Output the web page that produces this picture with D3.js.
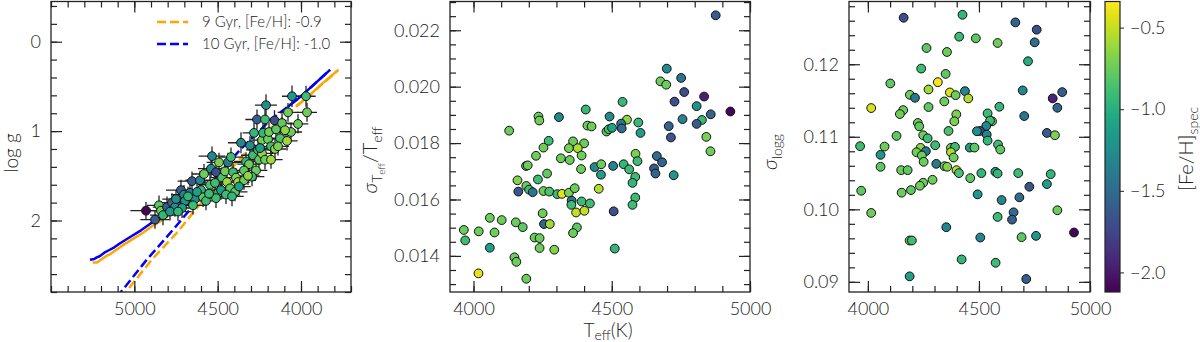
<!DOCTYPE html>
<html>
<head>
<meta charset="utf-8">
<script src="https://cdn.jsdelivr.net/npm/d3@7"></script>
<style>
  body { margin: 0; background: #fff; }
  svg { display: block; font-family: Lato, "DejaVu Sans", sans-serif; font-weight: 300; }
</style>
</head>
<body>
<svg id="chart" width="1200" height="342"></svg>
<script>
// ---- left panel: log g vs Teff (stars with error bars) ----
const leftTeff = [4930, 4876, 4852, 4840, 4828, 4804, 4774, 4756, 4750, 4720,
  4702, 4696, 4714, 4654, 4666, 4636, 4606, 4582, 4600, 4588,
  4570, 4546, 4534, 4540, 4510, 4516, 4498, 4510, 4474, 4456,
  4438, 4444, 4426, 4408, 4390, 4378, 4396, 4360, 4330, 4306,
  4312, 4342, 4288, 4270, 4294, 4252, 4234, 4258, 4234, 4216,
  4228, 4198, 4180, 4156, 4192, 4150, 4264, 4210, 4216, 4159,
  4114, 4078, 4060, 4054, 4018, 3970, 3964, 4096, 4126, 4180,
  4342, 4372, 4480, 4450, 4552, 4624, 4678, 4786, 4738, 4414,
  4246, 4318, 4492, 4420, 4282, 4138, 4084, 4648];
const leftLogg = [1.89, 1.99, 1.83, 1.89, 1.94, 1.85, 1.80, 1.85, 1.76, 1.66,
  1.71, 1.78, 1.86, 1.56, 1.69, 1.76, 1.55, 1.48, 1.66, 1.74,
  1.78, 1.60, 1.28, 1.42, 1.46, 1.58, 1.69, 1.75, 1.52, 1.45,
  1.35, 1.57, 1.64, 1.46, 1.52, 1.57, 1.68, 1.13, 1.34, 1.16,
  1.37, 1.44, 1.27, 1.44, 1.51, 1.32, 1.10, 1.21, 1.25, 1.32,
  1.02, 1.09, 1.17, 1.20, 1.01, 0.98, 0.87, 0.71, 0.87, 0.88,
  0.91, 0.79, 1.01, 0.61, 0.92, 0.61, 0.79, 0.99, 1.08, 1.32,
  1.55, 1.62, 1.66, 1.71, 1.70, 1.68, 1.73, 1.90, 1.90, 1.73,
  1.19, 1.50, 1.35, 1.29, 1.02, 1.17, 1.11, 1.83];
const leftFeh = [-2.10, -1.60, -0.78, -0.74, -0.95, -1.60, -1.55, -1.25, -1.25, -1.60,
  -1.30, -1.18, -1.12, -1.60, -1.40, -1.25, -1.30, -0.74, -0.95, -0.78,
  -0.90, -0.85, -1.30, -1.25, -1.70, -0.90, -0.95, -0.90, -0.85, -0.74,
  -1.40, -0.60, -0.78, -0.90, -0.68, -0.60, -0.78, -1.30, -0.95, -1.25,
  -0.74, -0.78, -0.90, -0.74, -0.90, -0.78, -0.74, -0.90, -0.64, -0.74,
  -0.95, -0.74, -0.90, -0.64, -0.74, -0.78, -1.60, -1.25, -0.90, -1.70,
  -0.78, -0.74, -0.74, -1.18, -0.74, -0.90, -0.74, -0.64, -0.85, -0.60,
  -0.74, -1.12, -1.12, -0.90, -0.90, -1.12, -0.95, -1.18, -0.95, -0.95,
  -1.12, -0.64, -0.70, -0.90, -0.95, -0.70, -0.60, -0.90];
const leftTeffErr = [94, 88, 72, 70, 78, 85, 80, 75, 82, 90,
  78, 84, 80, 86, 75, 82, 88, 72, 80, 70,
  76, 74, 80, 78, 84, 72, 76, 70, 74, 72,
  80, 70, 74, 68, 72, 70, 75, 78, 72, 76,
  70, 74, 72, 68, 74, 70, 68, 72, 70, 66,
  72, 68, 70, 66, 68, 64, 70, 66, 68, 72,
  64, 62, 66, 60, 62, 58, 60, 64, 66, 70,
  72, 70, 74, 72, 76, 78, 80, 84, 82, 70,
  68, 70, 74, 72, 68, 66, 64, 80];
const leftLoggErr = [0.097, 0.102, 0.110, 0.105, 0.112, 0.118, 0.104, 0.108, 0.100, 0.115,
  0.106, 0.103, 0.111, 0.109, 0.104, 0.099, 0.107, 0.112, 0.101, 0.110,
  0.105, 0.113, 0.108, 0.104, 0.110, 0.102, 0.106, 0.109, 0.115, 0.103,
  0.108, 0.111, 0.104, 0.100, 0.107, 0.112, 0.105, 0.118, 0.103, 0.109,
  0.106, 0.101, 0.110, 0.104, 0.108, 0.113, 0.120, 0.105, 0.102, 0.109,
  0.111, 0.106, 0.104, 0.103, 0.108, 0.110, 0.112, 0.122, 0.107, 0.114,
  0.109, 0.105, 0.103, 0.121, 0.108, 0.118, 0.106, 0.104, 0.110, 0.102,
  0.107, 0.103, 0.109, 0.105, 0.111, 0.104, 0.108, 0.100, 0.106, 0.110,
  0.104, 0.102, 0.108, 0.106, 0.110, 0.103, 0.107, 0.104];

// isochrones (RGB drawn dashed, HB and upper giant branch look solid)
const iso9RgbTeff = [5080, 5046, 4896, 4746, 4616, 4486, 4336, 4156, 3976, 3776];
const iso9RgbLogg = [2.87, 2.79, 2.44, 2.14, 1.84, 1.56, 1.25, 0.92, 0.645, 0.315];
const iso9HbTeff = [5250, 5225, 5200, 5170, 5140, 5110, 5080, 5020, 4950, 4890, 4830, 4750, 4670];
const iso9HbLogg = [2.47, 2.47, 2.44, 2.40, 2.37, 2.33, 2.29, 2.22, 2.14, 2.06, 1.99, 1.89, 1.80];
const iso9TopTeff = [4030, 3976, 3880, 3776];
const iso9TopLogg = [0.72, 0.645, 0.48, 0.315];
const iso10RgbTeff = [5106, 5076, 4926, 4766, 4636, 4516, 4366, 4186, 4006, 3826];
const iso10RgbLogg = [2.86, 2.79, 2.44, 2.10, 1.81, 1.52, 1.21, 0.88, 0.62, 0.315];
const iso10HbTeff = [5266, 5240, 5222, 5208, 5180, 5150, 5120, 5090, 5030, 4960, 4900, 4840, 4760, 4680];
const iso10HbLogg = [2.44, 2.43, 2.41, 2.40, 2.36, 2.33, 2.30, 2.26, 2.19, 2.11, 2.03, 1.96, 1.86, 1.77];
const iso10TopTeff = [4080, 4006, 3900, 3826];
const iso10TopLogg = [0.73, 0.62, 0.44, 0.315];
const isoNames = ["9 Gyr, [Fe/H]: -0.9", "10 Gyr, [Fe/H]: -1.0"];
const isoColors = ["#ffa500", "#0000ff"];

// ---- middle panel: sigma_Teff / Teff ----
const midTeff = [4876, 4699, 4751, 4676, 4697, 4762, 4834, 4727, 4539, 4807,
  4929, 4858, 4406, 4309, 4235, 4238, 4492, 4756, 4826, 4555,
  4534, 4596, 4706, 4807, 4412, 4427, 4481, 4489, 4501, 4536,
  4129, 4604, 4714, 4842, 4272, 4360, 4400, 4253, 4345, 4377,
  4857, 4226, 4316, 4391, 4586, 4348, 4663, 4593, 4682, 4190,
  4196, 4438, 4462, 4505, 4543, 4389, 4563, 4653, 4658, 4266,
  4461, 4724, 4585, 4159, 4233, 4575, 4191, 4201, 4162, 4214,
  4253, 4274, 4303, 4320, 4345, 4366, 4453, 4585, 4355, 4391,
  4421, 4354, 4575, 4371, 4401, 4507, 4250, 4255, 4276, 4059,
  4102, 4153, 4178, 3965, 4019, 4076, 4374, 4360, 3970, 4221,
  4239, 4059, 4239, 4292, 4511, 4148, 4155, 4018, 4191];
const midSig = [0.02253, 0.02064, 0.02031, 0.02019, 0.02007, 0.01981, 0.01965, 0.01947, 0.01946, 0.01931,
  0.01912, 0.01902, 0.01919, 0.01892, 0.01894, 0.01880, 0.01894, 0.01885, 0.01882, 0.01883,
  0.01869, 0.01873, 0.01860, 0.01868, 0.01862, 0.01859, 0.01841, 0.01849, 0.01854, 0.01852,
  0.01844, 0.01836, 0.01820, 0.01822, 0.01808, 0.01806, 0.01799, 0.01784, 0.01782, 0.01782,
  0.01771, 0.01755, 0.01746, 0.01756, 0.01762, 0.01740, 0.01754, 0.01736, 0.01732, 0.01719,
  0.01721, 0.01715, 0.01725, 0.01719, 0.01725, 0.01708, 0.01707, 0.01710, 0.01692, 0.01692,
  0.01688, 0.01686, 0.01680, 0.01668, 0.01671, 0.01659, 0.01648, 0.01635, 0.01628, 0.01626,
  0.01630, 0.01628, 0.01619, 0.01620, 0.01624, 0.01640, 0.01638, 0.01607, 0.01596, 0.01593,
  0.01586, 0.01581, 0.01581, 0.01554, 0.01560, 0.01558, 0.01551, 0.01513, 0.01513, 0.01535,
  0.01527, 0.01519, 0.01502, 0.01492, 0.01487, 0.01483, 0.01501, 0.01481, 0.01455, 0.01465,
  0.01463, 0.01429, 0.01428, 0.01422, 0.01426, 0.01395, 0.01379, 0.01338, 0.01319];
const midFeh = [-1.60, -1.25, -1.42, -0.74, -0.74, -1.70, -1.95, -1.70, -0.92, -1.20,
  -2.10, -1.55, -0.92, -1.28, -0.74, -0.74, -1.28, -1.32, -0.92, -0.65,
  -1.42, -0.92, -1.55, -1.60, -0.74, -0.74, -0.78, -0.85, -1.08, -1.50,
  -0.74, -1.12, -1.65, -0.70, -0.90, -0.74, -0.74, -0.74, -0.70, -0.55,
  -0.74, -0.74, -0.74, -0.74, -0.70, -0.74, -1.50, -0.90, -1.55, -0.78,
  -0.74, -1.28, -0.74, -1.32, -0.95, -0.74, -0.90, -1.60, -1.55, -0.78,
  -1.12, -1.18, -0.90, -0.68, -0.90, -0.95, -0.74, -0.90, -1.65, -1.42,
  -0.74, -0.85, -0.90, -0.42, -0.70, -0.74, -0.55, -0.90, -1.40, -0.90,
  -0.90, -0.90, -0.90, -0.50, -0.50, -1.70, -0.74, -1.55, -0.60, -0.74,
  -0.74, -0.74, -0.78, -0.74, -0.74, -0.74, -0.78, -0.74, -0.90, -0.74,
  -0.74, -1.12, -0.74, -0.68, -0.95, -0.74, -0.74, -0.42, -0.74];

// ---- right panel: sigma_logg ----
const rightTeff = [4161, 4426, 4664, 4760, 4411, 4486, 4584, 4751, 4264, 4356,
  4721, 4240, 4350, 4101, 4315, 4273, 4369, 4395, 4437, 4452,
  4189, 4212, 4697, 4875, 4832, 4853, 4015, 4159, 4144, 4273,
  4344, 4592, 4539, 4704, 4398, 4389, 4225, 4231, 4363, 4559,
  4550, 4533, 4505, 4491, 4535, 4539, 4806, 4842, 4129, 4249,
  4269, 3965, 4075, 4057, 4303, 4374, 4392, 4459, 4480, 4586,
  4596, 4237, 4219, 4261, 4243, 4374, 4386, 4251, 4057, 4308,
  4345, 4357, 4399, 4410, 4150, 4179, 4511, 4574, 4584, 4677,
  4461, 4291, 4249, 4234, 4823, 4806, 4727, 4194, 4152, 3970,
  4494, 4602, 4682, 4015, 4853, 4656, 4649, 4584, 4353, 4188,
  4198, 4506, 4692, 4757, 4928, 4422, 4575, 4188, 4713];
const rightSig = [0.12641, 0.12682, 0.12577, 0.12476, 0.12380, 0.12357, 0.12293, 0.12302, 0.12224, 0.12169,
  0.12041, 0.11940, 0.11867, 0.11735, 0.11753, 0.11652, 0.11611, 0.11574, 0.11629, 0.11529,
  0.11579, 0.11538, 0.11639, 0.11616, 0.11529, 0.11400, 0.11396, 0.11368, 0.11313, 0.11410,
  0.11487, 0.11414, 0.11323, 0.11286, 0.11309, 0.11213, 0.11190, 0.11144, 0.11080, 0.11213,
  0.11222, 0.11149, 0.11080, 0.11076, 0.11030, 0.10947, 0.11053, 0.11021, 0.11012, 0.11021,
  0.10979, 0.10870, 0.10865, 0.10751, 0.10883, 0.10847, 0.10861, 0.10851, 0.10851, 0.10893,
  0.10824, 0.10847, 0.10787, 0.10801, 0.10742, 0.10787, 0.10714, 0.10655, 0.10586, 0.10627,
  0.10595, 0.10586, 0.10540, 0.10499, 0.10540, 0.10540, 0.10499, 0.10517, 0.10494, 0.10499,
  0.10430, 0.10407, 0.10366, 0.10325, 0.10485, 0.10348, 0.10311, 0.10265, 0.10229, 0.10256,
  0.10206, 0.10128, 0.10165, 0.09950, 0.09987, 0.09959, 0.09858, 0.09895, 0.09753, 0.09570,
  0.09570, 0.09611, 0.09616, 0.09634, 0.09680, 0.09309, 0.09263, 0.09076, 0.09039];
const rightFeh = [-1.70, -0.95, -1.55, -1.70, -0.90, -0.78, -0.74, -1.50, -0.78, -0.74,
  -1.02, -0.90, -0.78, -0.78, -0.36, -0.60, -0.45, -0.74, -1.30, -0.55,
  -0.74, -1.40, -1.30, -1.60, -1.95, -1.55, -0.45, -0.74, -0.74, -0.78,
  -0.74, -0.95, -0.90, -1.42, -0.70, -0.70, -0.74, -0.78, -0.85, -0.70,
  -0.90, -1.30, -1.70, -1.25, -1.30, -0.95, -1.60, -0.70, -0.78, -0.74,
  -0.90, -0.90, -0.74, -1.18, -0.90, -0.70, -0.90, -1.12, -0.78, -0.90,
  -0.78, -0.64, -0.74, -1.40, -0.74, -0.55, -0.74, -0.74, -0.78, -1.40,
  -0.74, -0.68, -0.55, -0.85, -0.74, -0.78, -0.95, -1.12, -0.95, -0.90,
  -0.78, -0.74, -0.74, -0.74, -0.95, -1.12, -1.65, -0.78, -0.74, -0.78,
  -1.18, -1.30, -1.50, -0.74, -0.74, -1.50, -1.60, -0.90, -1.30, -0.74,
  -0.90, -1.30, -0.78, -1.18, -2.10, -0.95, -0.90, -1.12, -1.60];

// colour bar ticks
const cbarTicks = [-2.0, -1.5, -1.0, -0.5];

const svg = d3.select("#chart");
const ink = "#222";
const color = d3.scaleSequential(d3.interpolateViridis).domain([-2.12, -0.34]);
const yTop = 1.5, yBot = 292;

// draws the box with inward ticks on all four sides
function frame(g, x, y, xMajor, xMinor, yMajor, yMinor, xFmt, yFmt) {
  const x0 = Math.min(...x.range()), x1 = Math.max(...x.range());
  const axes = [
    [d3.axisBottom(x).tickValues(xMajor).tickSize(-11).tickPadding(10).tickFormat(xFmt), `translate(0,${yBot})`],
    [d3.axisBottom(x).tickValues(xMinor).tickSize(-6).tickFormat(""), `translate(0,${yBot})`],
    [d3.axisTop(x).tickValues(xMajor).tickSize(-11).tickFormat(""), `translate(0,${yTop})`],
    [d3.axisTop(x).tickValues(xMinor).tickSize(-6).tickFormat(""), `translate(0,${yTop})`],
    [d3.axisLeft(y).tickValues(yMajor).tickSize(-11).tickPadding(10).tickFormat(yFmt), `translate(${x0},0)`],
    [d3.axisLeft(y).tickValues(yMinor).tickSize(-6).tickFormat(""), `translate(${x0},0)`],
    [d3.axisRight(y).tickValues(yMajor).tickSize(-11).tickFormat(""), `translate(${x1},0)`],
    [d3.axisRight(y).tickValues(yMinor).tickSize(-6).tickFormat(""), `translate(${x1},0)`]
  ];
  axes.forEach(([ax, tr]) => {
    const a = g.append("g").attr("transform", tr).call(ax)
      .attr("font-family", null).attr("font-size", 18);
    a.select(".domain").remove();
    a.selectAll("line").attr("stroke", ink).attr("stroke-width", 1.2);
    a.selectAll("text").attr("fill", ink);
  });
  g.append("rect")
    .attr("x", x0).attr("y", yTop).attr("width", x1 - x0).attr("height", yBot - yTop)
    .attr("fill", "none").attr("stroke", ink).attr("stroke-width", 1.3);
}

function steps(a, b, s) {
  return d3.range(Math.round((b - a) / s) + 1).map(i => +(a + i * s).toFixed(5));
}

// ---------------- left panel ----------------
const xL = d3.scaleLinear().domain([5500, 3700]).range([51, 351]);
const yL = d3.scaleLinear().domain([-0.45, 2.8]).range([yTop, yBot]);
const defs = svg.append("defs");
defs.append("clipPath").attr("id", "clipL")
  .append("rect").attr("x", 51).attr("y", yTop).attr("width", 300).attr("height", yBot - yTop);
const gL = svg.append("g");
const gLc = gL.append("g").attr("clip-path", "url(#clipL)");

const line = d3.line().x(d => xL(d[0])).y(d => yL(d[1]));
const zip = (a, b) => a.map((v, i) => [v, b[i]]);
const isoSets = [
  [iso9RgbTeff, iso9RgbLogg, iso9HbTeff, iso9HbLogg, iso9TopTeff, iso9TopLogg],
  [iso10RgbTeff, iso10RgbLogg, iso10HbTeff, iso10HbLogg, iso10TopTeff, iso10TopLogg]
];
isoSets.forEach((s, k) => {
  gLc.append("path").datum(zip(s[0], s[1]))
    .attr("d", line).attr("fill", "none").attr("stroke", isoColors[k])
    .attr("stroke-width", 2.5).attr("stroke-dasharray", "9,4");
  gLc.append("path").datum(zip(s[2], s[3]))
    .attr("d", line).attr("fill", "none").attr("stroke", isoColors[k])
    .attr("stroke-width", 2.5).attr("stroke-linejoin", "round");
  gLc.append("path").datum(zip(s[4], s[5]))
    .attr("d", line).attr("fill", "none").attr("stroke", isoColors[k])
    .attr("stroke-width", 2.5);
});

const leftStars = leftTeff.map((t, i) => ({ t, g: leftLogg[i], f: leftFeh[i], et: leftTeffErr[i], eg: leftLoggErr[i] }));
const eb = gLc.append("g").attr("stroke", ink).attr("stroke-width", 1.3);
leftStars.forEach(d => {
  eb.append("line").attr("x1", xL(d.t - d.et)).attr("x2", xL(d.t + d.et)).attr("y1", yL(d.g)).attr("y2", yL(d.g));
  eb.append("line").attr("x1", xL(d.t)).attr("x2", xL(d.t)).attr("y1", yL(d.g - d.eg)).attr("y2", yL(d.g + d.eg));
});
gLc.append("g").selectAll("circle").data(leftStars).join("circle")
  .attr("cx", d => xL(d.t)).attr("cy", d => yL(d.g)).attr("r", 4.4)
  .attr("fill", d => color(d.f)).attr("stroke", "#111").attr("stroke-width", 1);

frame(gL, xL, yL, [5000, 4500, 4000], steps(3700, 5500, 100), [0, 1, 2], steps(-0.4, 2.8, 0.2),
  d3.format("d"), d3.format("d"));

// legend
const leg = gL.append("g");
isoNames.forEach((n, i) => {
  const yy = 22 + i * 22;
  leg.append("line").attr("x1", 157).attr("x2", 188).attr("y1", yy).attr("y2", yy)
    .attr("stroke", isoColors[i]).attr("stroke-width", 2.5).attr("stroke-dasharray", "9,4");
  leg.append("text").attr("x", 202).attr("y", yy + 5).attr("font-size", 15).attr("fill", ink).text(n);
});

svg.append("text").attr("transform", "translate(18,153) rotate(-90)")
  .attr("text-anchor", "middle").attr("font-size", 19).attr("fill", ink).text("log g");

// ---------------- middle panel ----------------
const xM = d3.scaleLinear().domain([3915, 5000]).range([450, 750]);
const yM = d3.scaleLinear().domain([0.01272, 0.02302]).range([yBot, yTop]);
const gM = svg.append("g");
gM.append("g").selectAll("circle").data(midTeff).join("circle")
  .attr("cx", d => xM(d)).attr("cy", (d, i) => yM(midSig[i])).attr("r", 4.4)
  .attr("fill", (d, i) => color(midFeh[i])).attr("stroke", "#111").attr("stroke-width", 1);
frame(gM, xM, yM, [4000, 4500, 5000], steps(4000, 5000, 100), steps(0.014, 0.022, 0.002), steps(0.013, 0.023, 0.0005),
  d3.format("d"), d3.format(".3f"));

const ml = svg.append("text").attr("transform", "translate(377,160) rotate(-90)")
  .attr("text-anchor", "middle").attr("font-size", 20).attr("fill", ink);
ml.append("tspan").attr("font-style", "italic").text("σ");
ml.append("tspan").attr("font-size", 14).attr("dy", 5).text("T");
ml.append("tspan").attr("font-size", 10).attr("dy", 3).text("eff");
ml.append("tspan").attr("dy", -8).text("/T");
ml.append("tspan").attr("font-size", 14).attr("dy", 5).text("eff");

const xl = svg.append("text").attr("x", 608).attr("y", 337)
  .attr("text-anchor", "middle").attr("font-size", 19).attr("fill", ink);
xl.append("tspan").text("T");
xl.append("tspan").attr("font-size", 14).attr("dy", 3).text("eff");
xl.append("tspan").attr("dy", -3).text("(K)");

// ---------------- right panel ----------------
const xR = d3.scaleLinear().domain([3915, 5000]).range([849, 1090]);
const yR = d3.scaleLinear().domain([0.0886, 0.12865]).range([yBot, yTop]);
const gR = svg.append("g");
gR.append("g").selectAll("circle").data(rightTeff).join("circle")
  .attr("cx", d => xR(d)).attr("cy", (d, i) => yR(rightSig[i])).attr("r", 4.4)
  .attr("fill", (d, i) => color(rightFeh[i])).attr("stroke", "#111").attr("stroke-width", 1);
frame(gR, xR, yR, [4000, 4500, 5000], steps(4000, 5000, 100), [0.09, 0.10, 0.11, 0.12], steps(0.09, 0.128, 0.002),
  d3.format("d"), d3.format(".2f"));

const rl = svg.append("text").attr("transform", "translate(777,152) rotate(-90)")
  .attr("text-anchor", "middle").attr("font-size", 20).attr("fill", ink);
rl.append("tspan").attr("font-style", "italic").text("σ");
rl.append("tspan").attr("font-size", 14).attr("dy", 5).text("logg");

// ---------------- colour bar ----------------
const yC = d3.scaleLinear().domain([-2.12, -0.34]).range([yBot, yTop]);
const grad = defs.append("linearGradient").attr("id", "viridis")
  .attr("x1", 0).attr("y1", 1).attr("x2", 0).attr("y2", 0);
d3.range(0, 1.0001, 0.05).forEach(t => {
  grad.append("stop").attr("offset", t).attr("stop-color", d3.interpolateViridis(t));
});
svg.append("rect").attr("x", 1105).attr("y", yTop).attr("width", 15).attr("height", yBot - yTop)
  .attr("fill", "url(#viridis)").attr("stroke", ink).attr("stroke-width", 1.2);
const ca = svg.append("g").attr("transform", "translate(1120,0)")
  .call(d3.axisRight(yC).tickValues(cbarTicks).tickSize(4).tickPadding(6).tickFormat(d3.format(".1f")))
  .attr("font-family", null).attr("font-size", 18);
ca.select(".domain").remove();
ca.selectAll("line").attr("stroke", ink);
ca.selectAll("text").attr("fill", ink);

const cl = svg.append("text").attr("transform", "translate(1193,149) rotate(-90)")
  .attr("text-anchor", "middle").attr("font-size", 20).attr("fill", ink);
cl.append("tspan").text("[Fe/H]");
cl.append("tspan").attr("font-size", 14).attr("dy", 5).text("spec");
</script>
</body>
</html>
